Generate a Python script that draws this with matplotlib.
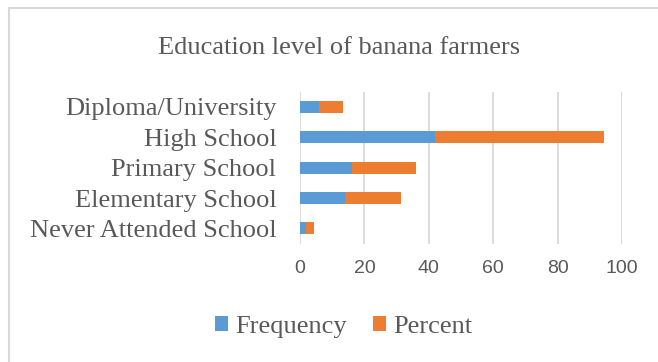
import matplotlib.pyplot as plt
from matplotlib.patches import Rectangle

niveaux = ['Never Attended School', 'Elementary School', 'Primary School',
           'High School', 'Diploma/University']
frequency = [2, 14, 16, 42, 6]
percent = [2.5, 17.5, 20, 52.5, 7.5]
ticks = [0, 20, 40, 60, 80, 100]

gris = '#595959'
bleu = '#5b9bd5'
orange = '#ed7d31'

fig = plt.figure(figsize=(6.58, 3.62), dpi=100)
ax = fig.add_axes([0.4559, 0.3273, 0.4894, 0.4191])

ax.barh(niveaux, frequency, height=0.4, color=bleu, label='Frequency', zorder=3)
ax.barh(niveaux, percent, left=frequency, height=0.4, color=orange,
        label='Percent', zorder=3)

ax.set_xlim(0, 100)
ax.set_ylim(-0.5, 4.5)
ax.set_xticks(ticks)
ax.xaxis.grid(True, color='#d9d9d9', linewidth=1.3, zorder=0)
for s in ax.spines.values():
    s.set_visible(False)
ax.tick_params(axis='both', length=0, colors=gris)
ax.tick_params(axis='x', pad=12)
ax.tick_params(axis='y', pad=17)
for lbl in ax.get_xticklabels():
    lbl.set_fontfamily('Liberation Sans')
    lbl.set_fontsize(14)
for lbl in ax.get_yticklabels():
    lbl.set_fontfamily('Liberation Serif')
    lbl.set_fontsize(19)

fig.text(0.515, 0.868, 'Education level of banana farmers', ha='center',
         va='center', fontfamily='Liberation Serif', fontsize=19, color=gris)

leg = fig.legend(loc='center', bbox_to_anchor=(0.522, 0.096), ncol=2, frameon=False,
                 prop={'family': 'Liberation Serif', 'size': 19},
                 handlelength=0.5, handleheight=0.5, handletextpad=0.27,
                 columnspacing=1.0)
for t in leg.get_texts():
    t.set_color(gris)

# cadre du graphique
fig.patches.append(Rectangle((9 / 658, -0.1), 1.2, 1 - 7.5 / 362 + 0.1,
                             transform=fig.transFigure, fill=False,
                             edgecolor='#d9d9d9', linewidth=1.5))

fig.savefig('out.png', dpi=100)
